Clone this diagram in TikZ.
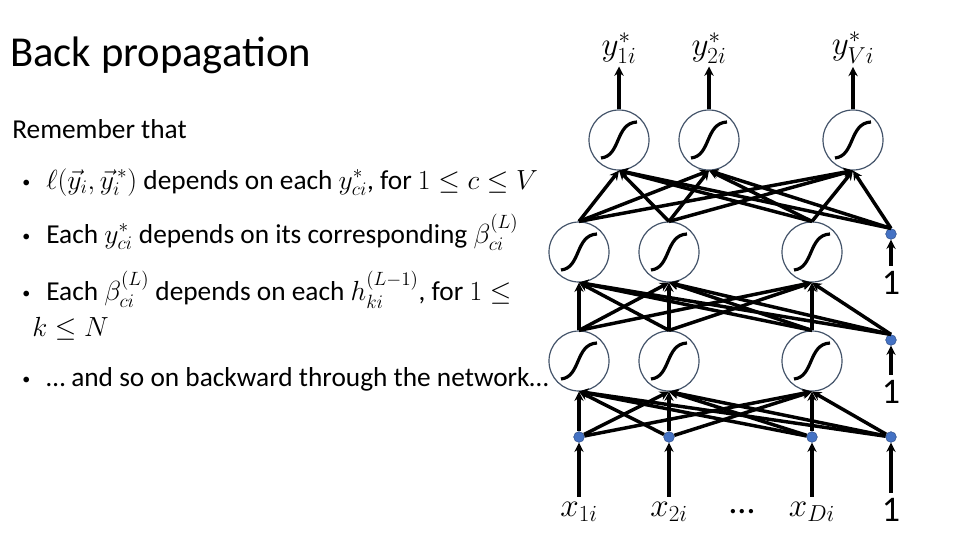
\documentclass[tikz,border=0pt]{standalone}
\usepackage{fontspec}
\setmainfont{Carlito}
\usepackage{amsmath}
\usetikzlibrary{arrows.meta}
\definecolor{ring}{HTML}{44546A}
\definecolor{dotc}{HTML}{4472C4}
\begin{document}
\begin{tikzpicture}[x=0.75pt,y=-0.75pt,
  neuron/.style={circle,draw=ring,line width=0.9pt,minimum size=45pt,inner sep=0pt,fill=white},
  dot/.style={circle,fill=dotc,draw=dotc!70!black,inner sep=0pt,minimum size=8pt},
  edge/.style={line width=2.6pt,-{Stealth[length=7pt,width=7pt]}},
  txt/.style={anchor=base west,font=\fontsize{20.5}{22}\selectfont,inner sep=0pt},
  lab/.style={font=\fontsize{27}{28}\selectfont,inner sep=0pt}]
\useasboundingbox (0,0) rectangle (960,540);
\newcommand{\bul}{\makebox[18pt][l]{\raisebox{1pt}{\fontsize{12}{12}\selectfont•}}}
% title and text
\node[anchor=base west,font=\fontsize{32}{34}\selectfont,inner sep=0pt] (title) at (10,66) {Back propagation};
\node[txt] (t0) at (12,138) {Remember that};
\node[txt] (t1) at (22,189) {\bul$\ell(\vec{y}_i,\vec{y}_i^{\,*})$ depends on each $y^*_{ci}$, for $1\le c\le V$};
\node[txt] (t2) at (22,243) {\bul Each $y^*_{ci}$ depends on its corresponding $\beta^{(L)}_{ci}$};
\node[txt] (t3) at (22,300) {\bul Each $\beta^{(L)}_{ci}$ depends on each $h^{(L-1)}_{ki}$, for $1\le$};
\node[txt] (t4) at (32,336) {$k\le N$};
\node[txt] (t5) at (22,386) {\bul … and so on backward through the network…};
% nodes
\foreach \n/\x in {1/619,2/709,3/853} \node[neuron] (o\n) at (\x,140) {};
\foreach \n/\x in {1/579,2/669,3/812} \node[neuron] (m\n) at (\x,252) {};
\foreach \n/\x in {1/579,2/669,3/812} \node[neuron] (b\n) at (\x,361) {};
\foreach \n/\x in {1/579,2/669,3/812,4/891} \node[dot] (i\n) at (\x,437) {};
\node[dot] (bm) at (891,234) {};
\node[dot] (bb) at (891,340) {};
% sigmoid curves
\foreach \c in {o1,o2,o3,m1,m2,m3,b1,b2,b3}
  \draw[line width=2.4pt] ([shift={(-18,18)}]\c.center) .. controls ([shift={(2,16)}]\c.center) and ([shift={(-4,-17)}]\c.center) .. ([shift={(18,-18)}]\c.center);
% edges
\foreach \s in {i1,i2,i3,i4} \foreach \t in {b1,b2,b3} \draw[edge] (\s) -- (\t.south);
\foreach \s in {b1,b2,b3,bb} \foreach \t in {m1,m2,m3} \draw[edge] (\s.north) -- (\t.south);
\foreach \s in {m1,m2,m3,bm} \foreach \t in {o1,o2,o3} \draw[edge] (\s.north) -- (\t.south);
% outputs
\node[lab] (y1) at (619,48) {$y^*_{1i}$};
\node[lab] (y2) at (709,48) {$y^*_{2i}$};
\node[lab] (y3) at (853,48) {$y^*_{Vi}$};
\foreach \n in {1,2,3} \draw[edge] (o\n.north) -- ([yshift=-2pt]y\n.south);
% inputs
\node[lab] (x1) at (579,512) {$x_{1i}$};
\node[lab] (x2) at (669,512) {$x_{2i}$};
\node[lab] (dd) at (742,512) {…};
\node[lab] (x3) at (812,512) {$x_{Di}$};
\node[lab] (x4) at (891,510) {1};
\foreach \n in {1,2,3,4} \draw[edge] ([yshift=4pt]x\n.north) -- (i\n);
\node[lab] (one1) at (891,283) {1};
\node[lab] (one2) at (891,392) {1};
\draw[edge] ([yshift=4pt]one1.north) -- (bm);
\draw[edge] ([yshift=4pt]one2.north) -- (bb);
\end{tikzpicture}
\end{document}
